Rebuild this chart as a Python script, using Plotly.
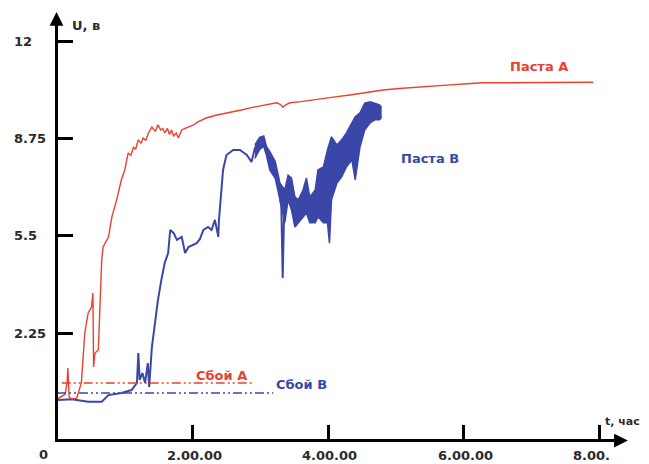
import plotly.graph_objects as go

# ---- data ----
red_t = [0.0, 0.06, 0.12, 0.15, 0.16, 0.18, 0.22, 0.29, 0.36, 0.41,
         0.46, 0.51, 0.53, 0.54, 0.56, 0.61, 0.63, 0.66, 0.68, 0.72,
         0.76, 0.81, 0.88, 0.95, 1.00, 1.05, 1.09, 1.13, 1.16, 1.20,
         1.24, 1.27, 1.31, 1.35, 1.40, 1.45, 1.49, 1.53, 1.56, 1.59,
         1.63, 1.66, 1.69, 1.72, 1.76, 1.79, 1.84, 1.89, 1.94, 2.00,
         2.08, 2.20, 2.36, 2.48, 2.60, 2.72, 2.85, 2.97, 3.09, 3.18,
         3.24, 3.30, 3.33, 3.38, 3.44, 3.60, 3.83, 4.05, 4.32, 4.55,
         4.81, 5.05, 5.31, 5.55, 5.80, 6.05, 6.28, 6.55, 6.78, 7.00,
         7.27, 7.60, 7.91]
red_v = [0.03, 0.12, 0.20, 0.60, 1.08, 0.10, 0.04, 0.07, 0.58, 2.25,
         2.92, 3.12, 3.59, 1.11, 1.58, 1.68, 3.12, 4.70, 5.13, 5.30,
         5.47, 6.14, 6.71, 7.38, 7.71, 8.28, 8.20, 8.48, 8.40, 8.72,
         8.60, 8.78, 8.70, 8.95, 9.15, 9.00, 9.22, 9.05, 9.10, 8.95,
         9.10, 8.90, 9.05, 8.85, 8.95, 8.78, 9.05, 9.10, 9.15, 9.20,
         9.32, 9.45, 9.55, 9.60, 9.65, 9.72, 9.79, 9.84, 9.89, 9.93,
         9.96, 9.90, 9.82, 9.90, 9.96, 10.00, 10.06, 10.14, 10.22, 10.30,
         10.39, 10.44, 10.49, 10.53, 10.56, 10.60, 10.63, 10.63, 10.63, 10.64,
         10.64, 10.65, 10.65]

blue_t = [0.0, 0.22, 0.46, 0.66, 0.76, 0.95, 1.10, 1.18, 1.20, 1.22,
          1.26, 1.30, 1.34, 1.36, 1.40, 1.45, 1.49, 1.54, 1.59, 1.64,
          1.67, 1.72, 1.77, 1.84, 1.89, 1.94, 2.00, 2.06, 2.11, 2.16,
          2.23, 2.28, 2.33, 2.38, 2.39, 2.43, 2.45, 2.50, 2.55, 2.60,
          2.70, 2.80, 2.87, 2.92, 2.99, 3.05, 3.09, 3.14, 3.19, 3.26,
          3.31, 3.33, 3.35, 3.41]
blue_v = [0.0, 0.03, -0.05, -0.05, 0.17, 0.24, 0.34, 0.58, 1.58, 0.68,
          0.91, 0.58, 1.24, 0.44, 1.78, 2.69, 3.36, 4.03, 4.60, 4.93,
          5.70, 5.60, 5.37, 5.47, 4.93, 5.13, 5.20, 5.26, 5.40, 5.70,
          5.80, 5.70, 6.04, 5.47, 6.04, 7.04, 7.71, 8.21, 8.30, 8.38,
          8.38, 8.21, 7.98, 8.45, 8.62, 8.78, 8.38, 8.05, 7.71, 7.27,
          6.47, 4.09, 6.20, 7.04]

# noisy part of "Паста В": upper and lower envelope
band_t = [2.92, 2.99, 3.05, 3.09, 3.14, 3.22, 3.29, 3.36, 3.41, 3.46,
          3.51, 3.56, 3.63, 3.68, 3.73, 3.81, 3.85, 3.93, 3.99, 4.02,
          4.05, 4.13, 4.20, 4.27, 4.35, 4.40, 4.47, 4.54, 4.62, 4.69,
          4.76, 4.79]
band_hi = [8.55, 8.80, 8.85, 8.50, 8.32, 7.99, 7.27, 7.04, 7.54, 7.44,
           6.81, 6.71, 7.04, 7.44, 6.81, 7.04, 7.71, 7.81, 8.38, 8.60,
           8.82, 8.55, 8.72, 8.95, 9.29, 9.49, 9.62, 9.95, 9.99, 9.95,
           9.89, 9.79]
band_lo = [8.10, 8.40, 8.50, 8.20, 7.71, 7.43, 6.71, 5.94, 6.71, 6.37,
           5.80, 5.94, 6.14, 6.27, 5.94, 5.94, 6.14, 5.94, 5.94, 5.26,
           6.71, 7.27, 7.48, 7.81, 8.05, 7.38, 8.48, 9.05, 9.29, 9.39,
           9.39, 9.49]

fail_a_t = [0.07, 2.88]
fail_a_v = [0.575, 0.575]
fail_b_t = [0.0, 3.19]
fail_b_v = [0.24, 0.24]

y_ticks = [2.25, 5.5, 8.75, 12]
y_tick_text = ["2.25", "5.5", "8.75", "12"]
x_ticks = [2, 4, 6, 8]
x_tick_text = ["2.00.00", "4.00.00", "6.00.00", "8.00."]

RED = "#e8412f"
BLUE = "#3a47a8"
TXT = "#2b2b2b"
FONT = "DejaVu Sans"

fig = go.Figure()

# noisy band of Паста В
fig.add_trace(go.Scatter(x=band_t, y=band_lo, mode="lines",
                         line=dict(color=BLUE, width=1.5), showlegend=False,
                         hoverinfo="skip"))
fig.add_trace(go.Scatter(x=band_t, y=band_hi, mode="lines", fill="tonexty",
                         fillcolor=BLUE,
                         line=dict(color=BLUE, width=1.5), showlegend=False,
                         hoverinfo="skip"))

fig.add_trace(go.Scatter(x=blue_t, y=blue_v, mode="lines",
                         line=dict(color=BLUE, width=2), showlegend=False))
fig.add_trace(go.Scatter(x=red_t, y=red_v, mode="lines",
                         line=dict(color=RED, width=1.4), showlegend=False))

dashdot = "9px,3px,2px,3px,2px,3px"
fig.add_trace(go.Scatter(x=fail_a_t, y=fail_a_v, mode="lines",
                         line=dict(color=RED, width=1.5, dash=dashdot),
                         showlegend=False))
fig.add_trace(go.Scatter(x=fail_b_t, y=fail_b_v, mode="lines",
                         line=dict(color=BLUE, width=1.5, dash=dashdot),
                         showlegend=False))

ann = []
font_lbl = dict(family=FONT, size=13, color=TXT, weight="bold")
for v, s in zip(y_ticks, y_tick_text):
    ann.append(dict(x=-0.0811, xref="paper", y=v, yref="y", text=s,
                    showarrow=False, xanchor="left", yanchor="middle",
                    font=font_lbl))
for v, s in zip(x_ticks, x_tick_text):
    ann.append(dict(x=v, xref="x", y=-0.040, yref="paper", text=s,
                    showarrow=False, xanchor="left", yanchor="middle",
                    xshift=-28, font=font_lbl))
ann.append(dict(x=-0.0247, xref="paper", y=-0.0377, yref="paper", text="0",
                showarrow=False, xanchor="center", yanchor="middle",
                font=font_lbl))
ann.append(dict(x=0.0212, xref="paper", y=0.976, yref="paper", text="U, в",
                showarrow=False, xanchor="left", yanchor="middle",
                font=font_lbl))
ann.append(dict(x=0.962, xref="paper", y=0.042, yref="paper", text="t, час",
                showarrow=False, xanchor="left", yanchor="middle",
                font=dict(family=FONT, size=11, color=TXT, weight="bold")))

font_red = dict(family=FONT, size=13, color=RED, weight="bold")
font_blue = dict(family=FONT, size=13, color=BLUE, weight="bold")
ann.append(dict(x=7.11, y=11.16, text="Паста А", showarrow=False, font=font_red))
ann.append(dict(x=5.50, y=8.08, text="Паста В", showarrow=False, font=font_blue))
ann.append(dict(x=2.43, y=0.84, text="Сбой А", showarrow=False, font=font_red))
ann.append(dict(x=3.61, y=0.54, text="Сбой В", showarrow=False, font=font_blue))

# axis arrowheads
ann.append(dict(x=1.005, xref="paper", y=0, yref="paper", ax=-14, ay=0,
                yshift=-1.5, text="", showarrow=True, arrowhead=2,
                arrowsize=1.1, arrowwidth=2.5, arrowcolor="black"))
ann.append(dict(x=0, xref="paper", y=1.007, yref="paper", ax=0, ay=14,
                xshift=-1.5, text="", showarrow=True, arrowhead=2,
                arrowsize=1.1, arrowwidth=2.5, arrowcolor="black"))

# the page adds an 8px body margin, so the figure is 8px smaller and shifted
fig.update_layout(
    width=641, height=456,
    margin=dict(l=50, r=24, t=7, b=25, autoexpand=False),
    paper_bgcolor="white", plot_bgcolor="white",
    annotations=ann,
    xaxis=dict(range=[0.015, 8.38], showline=True, linecolor="black",
               linewidth=3, ticks="inside", ticklen=14, tickwidth=3,
               tickcolor="black", tickvals=x_ticks, showticklabels=False,
               showgrid=False, zeroline=False),
    yaxis=dict(range=[-1.30, 12.9], showline=True, linecolor="black",
               linewidth=3, ticks="inside", ticklen=15, tickwidth=3,
               tickcolor="black", tickvals=y_ticks, showticklabels=False,
               showgrid=False, zeroline=False),
)

fig.write_html("out.html")
